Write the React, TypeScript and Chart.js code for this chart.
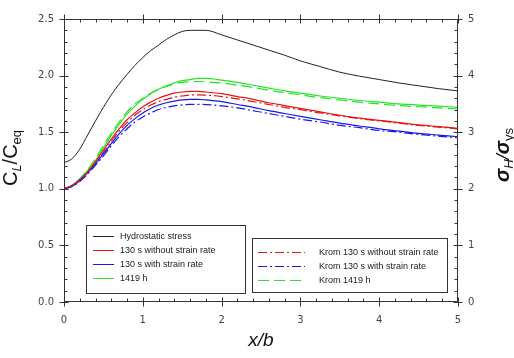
import React, { useEffect, useRef } from "react";
import { Chart, registerables } from "chart.js";

Chart.register(...registerables);

// Distance along the plate, x/b
const xb = [0, 0.1, 0.2, 0.3, 0.4, 0.5, 0.6, 0.7, 0.8, 0.9, 1.0, 1.1, 1.2, 1.3, 1.4, 1.5, 1.6, 1.7, 1.8, 2.0, 2.2, 2.4, 2.6, 2.8, 3.0, 3.25, 3.5, 3.75, 4.0, 4.25, 4.5, 4.75, 5.0];

// Hydrostatic stress, sigma_H / sigma_ys (right axis)
const hydrostatic = [2.46, 2.53, 2.70, 2.95, 3.20, 3.44, 3.66, 3.85, 4.02, 4.18, 4.32, 4.44, 4.54, 4.64, 4.72, 4.78, 4.80, 4.80, 4.80, 4.72, 4.63, 4.54, 4.45, 4.36, 4.26, 4.16, 4.06, 3.99, 3.93, 3.87, 3.82, 3.77, 3.73];

// Normalised hydrogen concentration C_L / C_eq (left axis)
const c130NoRate = [1.00, 1.03, 1.08, 1.15, 1.24, 1.34, 1.44, 1.53, 1.61, 1.67, 1.725, 1.765, 1.80, 1.825, 1.845, 1.855, 1.86, 1.86, 1.855, 1.84, 1.815, 1.79, 1.76, 1.735, 1.71, 1.68, 1.65, 1.625, 1.605, 1.585, 1.565, 1.55, 1.535];
const c130Rate = [1.00, 1.02, 1.07, 1.14, 1.22, 1.31, 1.40, 1.485, 1.56, 1.62, 1.67, 1.71, 1.74, 1.76, 1.775, 1.785, 1.79, 1.79, 1.785, 1.77, 1.745, 1.72, 1.69, 1.665, 1.64, 1.61, 1.58, 1.555, 1.53, 1.51, 1.49, 1.475, 1.46];
const c1419h = [1.00, 1.03, 1.09, 1.16, 1.25, 1.36, 1.47, 1.57, 1.66, 1.73, 1.79, 1.84, 1.88, 1.91, 1.935, 1.955, 1.965, 1.975, 1.975, 1.96, 1.94, 1.915, 1.89, 1.865, 1.845, 1.82, 1.80, 1.78, 1.765, 1.75, 1.74, 1.73, 1.72];
const krom130NoRate = [1.00, 1.03, 1.08, 1.15, 1.23, 1.32, 1.42, 1.51, 1.585, 1.65, 1.70, 1.74, 1.77, 1.79, 1.81, 1.82, 1.828, 1.83, 1.828, 1.815, 1.795, 1.77, 1.745, 1.72, 1.70, 1.67, 1.645, 1.62, 1.60, 1.58, 1.56, 1.545, 1.53];
const krom130Rate = [1.00, 1.02, 1.065, 1.13, 1.21, 1.29, 1.38, 1.46, 1.53, 1.59, 1.635, 1.67, 1.70, 1.72, 1.733, 1.741, 1.745, 1.746, 1.744, 1.733, 1.715, 1.69, 1.665, 1.64, 1.615, 1.59, 1.56, 1.54, 1.515, 1.50, 1.48, 1.465, 1.45];
const krom1419h = [1.00, 1.03, 1.09, 1.17, 1.27, 1.38, 1.49, 1.59, 1.68, 1.75, 1.80, 1.845, 1.88, 1.905, 1.925, 1.94, 1.945, 1.948, 1.945, 1.935, 1.915, 1.895, 1.87, 1.85, 1.83, 1.805, 1.785, 1.765, 1.75, 1.735, 1.725, 1.715, 1.705];

const seriesLabels = [
  "Hydrostatic stress",
  "130 s without strain rate",
  "130 s with strain rate",
  "1419 h",
  "Krom 130 s without strain rate",
  "Krom 130 s with strain rate",
  "Krom 1419 h",
];

const xTicks = [0, 1, 2, 3, 4, 5];
const leftTicks = [0, 0.5, 1.0, 1.5, 2.0, 2.5];
const rightTicks = [0, 1, 2, 3, 4, 5];

const RED = "rgb(230,20,20)";
const BLUE = "rgb(25,25,230)";
const GREEN = "rgb(40,225,40)";
const BLACK = "#222";
const DASH_DOT = [9, 3, 2, 3];
const DASH = [11, 5];

const TICK_FONT = "DejaVu Sans";
const TEXT_FONT = "'Liberation Sans', Arial, sans-serif";

const pts = (ys: number[]) => ys.map((y, i) => ({ x: xb[i], y }));

function drawRich(ctx: CanvasRenderingContext2D, parts: { t: string; f: string; dy?: number }[]) {
  let w = 0;
  for (const p of parts) {
    ctx.font = p.f;
    w += ctx.measureText(p.t).width;
  }
  let x = -w / 2;
  for (const p of parts) {
    ctx.font = p.f;
    ctx.fillText(p.t, x, p.dy || 0);
    x += ctx.measureText(p.t).width;
  }
}

const decorPlugin = {
  id: "decor",
  afterDraw(chart: any) {
    const ctx: CanvasRenderingContext2D = chart.ctx;
    const { left, right, top, bottom } = chart.chartArea;
    const sx = chart.scales.x;
    const sy = chart.scales.y;
    const sy2 = chart.scales.y2;
    ctx.save();
    ctx.strokeStyle = "#333";
    ctx.lineWidth = 1;
    const L = Math.round(left) + 0.5;
    const R = Math.round(right) - 0.5;
    const T = Math.round(top) + 0.5;
    const B = Math.round(bottom) - 0.5;
    ctx.beginPath();
    ctx.rect(L, T, R - L, B - T);
    // x ticks: majors cross the frame, minors point inward
    for (let i = 0; i <= 25; i++) {
      const px = Math.round(sx.getPixelForValue(i * 0.2)) + 0.5;
      const major = i % 5 === 0;
      if (major) {
        ctx.moveTo(px, B - 4); ctx.lineTo(px, B + 5);
        ctx.moveTo(px, T - 5); ctx.lineTo(px, T + 4);
      } else {
        ctx.moveTo(px, B); ctx.lineTo(px, B - 3);
        ctx.moveTo(px, T); ctx.lineTo(px, T + 3);
      }
    }
    for (let i = 0; i <= 25; i++) {
      const py = Math.round(sy.getPixelForValue(i * 0.1)) + 0.5;
      const major = i % 5 === 0;
      if (major) {
        ctx.moveTo(L - 5, py); ctx.lineTo(L + 4, py);
      } else {
        ctx.moveTo(L, py); ctx.lineTo(L + 3, py);
      }
    }
    for (let i = 0; i <= 25; i++) {
      const py = Math.round(sy2.getPixelForValue(i * 0.2)) + 0.5;
      const major = i % 5 === 0;
      if (major) {
        ctx.moveTo(R - 4, py); ctx.lineTo(R + 5, py);
      } else {
        ctx.moveTo(R, py); ctx.lineTo(R - 3, py);
      }
    }
    ctx.stroke();

    // legends
    const ds = chart.data.datasets;
    const drawBox = (x0: number, y0: number, x1: number, y1: number, items: number[], firstY: number, lx0: number, lx1: number, tx: number) => {
      ctx.fillStyle = "#fff";
      ctx.fillRect(x0, y0, x1 - x0, y1 - y0);
      ctx.strokeStyle = "#333";
      ctx.lineWidth = 1;
      ctx.setLineDash([]);
      ctx.strokeRect(x0 + 0.5, y0 + 0.5, x1 - x0, y1 - y0);
      items.forEach((idx, k) => {
        const y = firstY + k * 14;
        const d = ds[idx];
        ctx.strokeStyle = d.borderColor;
        ctx.lineWidth = 1;
        ctx.setLineDash(d.borderDash || []);
        ctx.beginPath();
        ctx.moveTo(lx0, y + 0.5);
        ctx.lineTo(lx1, y + 0.5);
        ctx.stroke();
        ctx.setLineDash([]);
        ctx.fillStyle = "#222";
        ctx.font = `9px ${TEXT_FONT}`;
        ctx.textBaseline = "middle";
        ctx.textAlign = "left";
        ctx.fillText(d.label, tx, y + 1);
      });
    };
    drawBox(86, 225, 245, 293, [0, 1, 2, 3], 236, 93, 114, 120);
    drawBox(252, 238, 447, 292, [4, 5, 6], 252, 258, 305, 319);

    // axis titles
    ctx.fillStyle = "#111";
    ctx.textBaseline = "alphabetic";
    ctx.textAlign = "left";
    ctx.save();
    ctx.translate(17, 158);
    ctx.rotate(-Math.PI / 2);
    drawRich(ctx, [
      { t: "C", f: `20px ${TEXT_FONT}` },
      { t: "L", f: `italic 13px ${TEXT_FONT}`, dy: 4 },
      { t: "/C", f: `20px ${TEXT_FONT}` },
      { t: "eq", f: `13px ${TEXT_FONT}`, dy: 4 },
    ]);
    ctx.restore();

    ctx.save();
    ctx.translate(509, 155);
    ctx.rotate(-Math.PI / 2);
    drawRich(ctx, [
      { t: "σ", f: `italic bold 20px ${TEXT_FONT}` },
      { t: "H", f: `italic 13px ${TEXT_FONT}`, dy: 4 },
      { t: "/", f: `italic 19px ${TEXT_FONT}` },
      { t: "σ", f: `italic bold 20px ${TEXT_FONT}` },
      { t: "ys", f: `13px ${TEXT_FONT}`, dy: 4 },
    ]);
    ctx.restore();

    ctx.save();
    ctx.translate((left + right) / 2, 346);
    drawRich(ctx, [{ t: "x/b", f: `italic 19px ${TEXT_FONT}` }]);
    ctx.restore();

    ctx.restore();
  },
};

export default function App() {
  const ref = useRef<HTMLCanvasElement | null>(null);

  useEffect(() => {
    if (!ref.current) return;
    const tickStyle = { family: TICK_FONT, size: 10 };
    const chart = new Chart(ref.current, {
      type: "line",
      data: {
        datasets: [
          { label: seriesLabels[0], data: pts(hydrostatic), yAxisID: "y2", borderColor: BLACK, borderWidth: 1 },
          { label: seriesLabels[1], data: pts(c130NoRate), yAxisID: "y", borderColor: RED, borderWidth: 1.2 },
          { label: seriesLabels[2], data: pts(c130Rate), yAxisID: "y", borderColor: BLUE, borderWidth: 1.2 },
          { label: seriesLabels[3], data: pts(c1419h), yAxisID: "y", borderColor: GREEN, borderWidth: 1.2 },
          { label: seriesLabels[4], data: pts(krom130NoRate), yAxisID: "y", borderColor: RED, borderWidth: 1.2, borderDash: DASH_DOT },
          { label: seriesLabels[5], data: pts(krom130Rate), yAxisID: "y", borderColor: BLUE, borderWidth: 1.2, borderDash: DASH_DOT },
          { label: seriesLabels[6], data: pts(krom1419h), yAxisID: "y", borderColor: GREEN, borderWidth: 1.2, borderDash: DASH },
        ].map((d) => ({ ...d, pointRadius: 0, fill: false, cubicInterpolationMode: "monotone" as const })),
      },
      options: {
        animation: false,
        responsive: false,
        events: [],
        layout: { padding: 0 },
        plugins: { legend: { display: false }, tooltip: { enabled: false } },
        scales: {
          x: {
            type: "linear",
            position: "bottom",
            min: 0,
            max: 5,
            afterBuildTicks: (s: any) => { s.ticks = xTicks.map((v) => ({ value: v })); },
            ticks: { color: "#444", font: tickStyle, padding: 12, maxRotation: 0, callback: (v: any) => String(v) },
            grid: { display: false, drawTicks: false },
            border: { display: false },
            afterFit: (s: any) => { s.height = 56; },
          },
          xTop: {
            type: "linear",
            position: "top",
            min: 0,
            max: 5,
            ticks: { display: false },
            grid: { display: false, drawTicks: false },
            border: { display: false },
            afterFit: (s: any) => { s.height = 19; },
          },
          y: {
            type: "linear",
            position: "left",
            min: 0,
            max: 2.5,
            afterBuildTicks: (s: any) => { s.ticks = leftTicks.map((v) => ({ value: v })); },
            ticks: { color: "#444", font: tickStyle, padding: 10, callback: (v: any) => Number(v).toFixed(1) },
            grid: { display: false, drawTicks: false },
            border: { display: false },
            afterFit: (s: any) => { s.width = 64; },
          },
          y2: {
            type: "linear",
            position: "right",
            min: 0,
            max: 5,
            afterBuildTicks: (s: any) => { s.ticks = rightTicks.map((v) => ({ value: v })); },
            ticks: { color: "#444", font: tickStyle, padding: 10, callback: (v: any) => String(v) },
            grid: { display: false, drawTicks: false },
            border: { display: false },
            afterFit: (s: any) => { s.width = 56; },
          },
        },
      },
      plugins: [decorPlugin],
    });
    return () => chart.destroy();
  }, []);

  return (
    <div style={{ position: "fixed", left: 0, top: 0, width: 514, height: 358, background: "#fff" }}>
      <canvas ref={ref} width={514} height={358} />
    </div>
  );
}
